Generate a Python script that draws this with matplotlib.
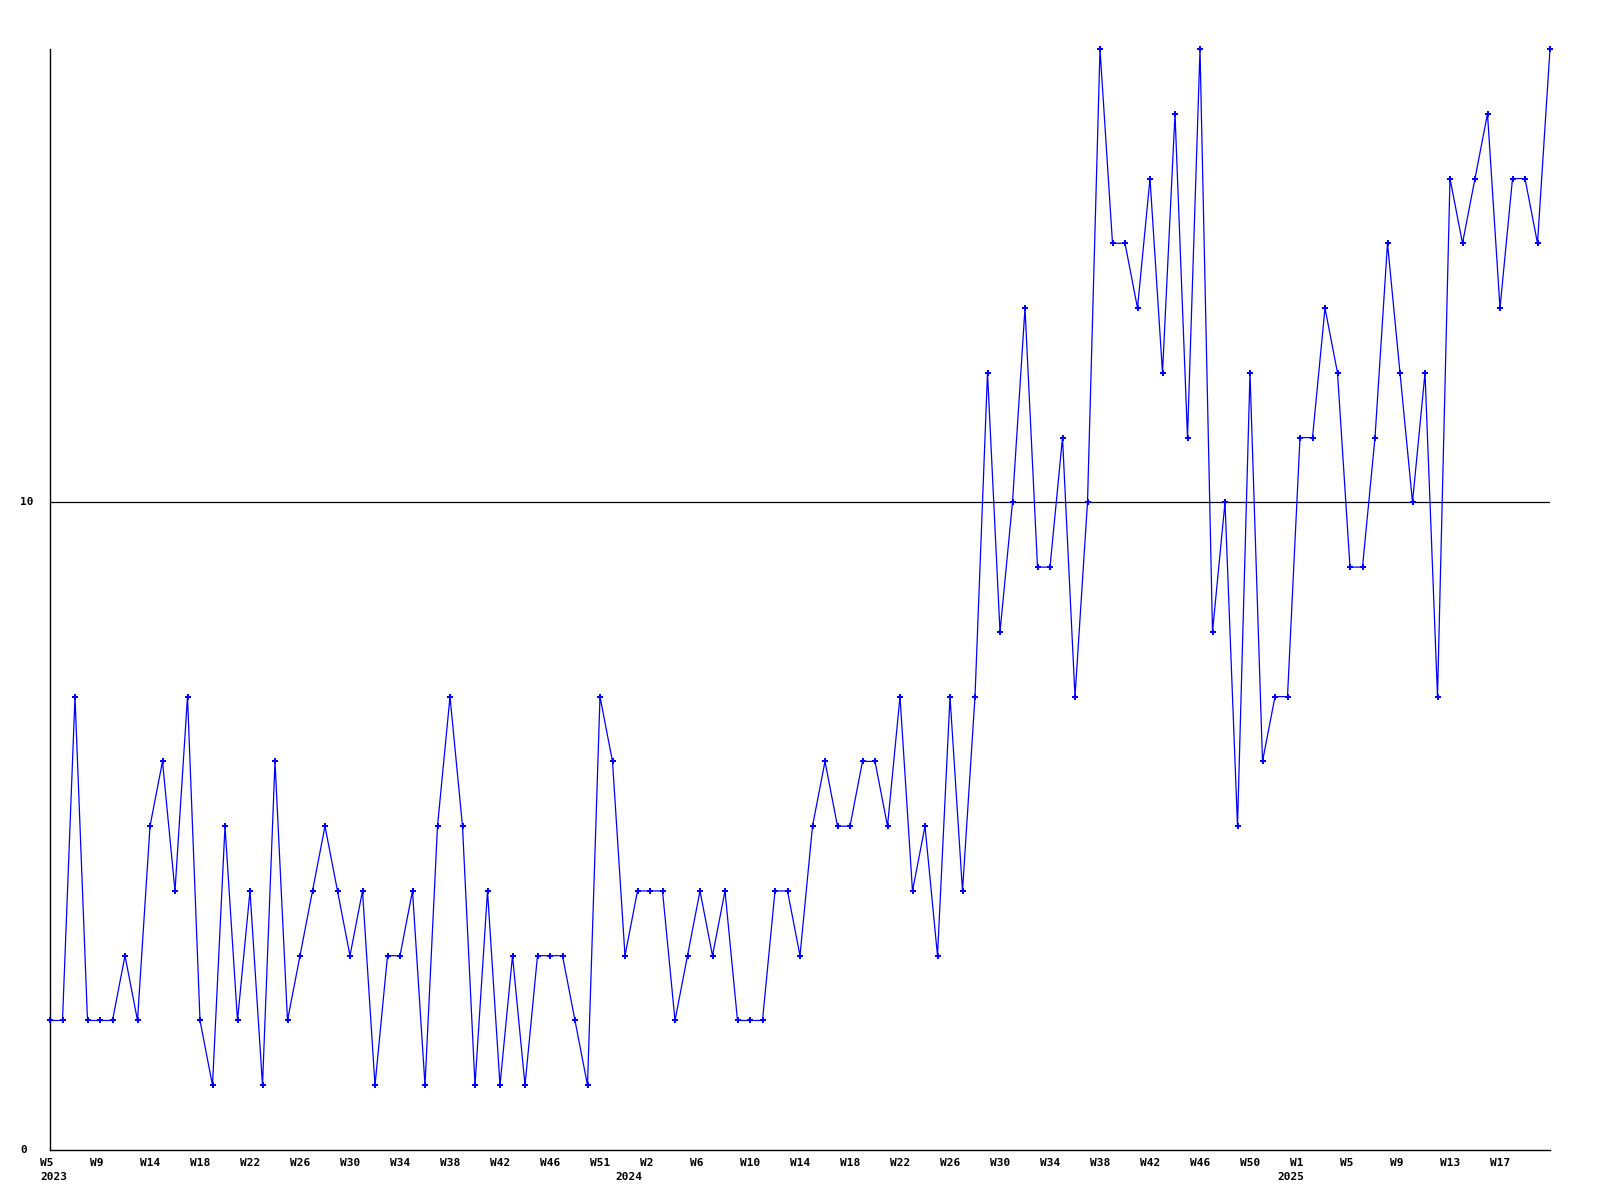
import numpy as np
import matplotlib
matplotlib.use('Agg')
import matplotlib.pyplot as plt

# weekly counts, 2023 W5 .. 2025 W21
values = [2, 2, 7, 2, 2, 2, 3, 2, 5, 6, 4, 7, 2, 1, 5, 2, 4, 1, 6, 2,
          3, 4, 5, 4, 3, 4, 1, 3, 3, 4, 1, 5, 7, 5, 1, 4, 1, 3, 1, 3,
          3, 3, 2, 1, 7, 6, 3, 4, 4, 4, 2, 3, 4, 3, 4, 2, 2, 2, 4, 4,
          3, 5, 6, 5, 5, 6, 6, 5, 7, 4, 5, 3, 7, 4, 7, 12, 8, 10, 13, 9,
          9, 11, 7, 10, 17, 14, 14, 13, 15, 12, 16, 11, 17, 8, 10, 5, 12, 6, 7, 7,
          11, 11, 13, 12, 9, 9, 11, 14, 12, 10, 12, 7, 15, 14, 15, 16, 13, 15, 15, 14,
          17]

week_labels = ['W5', 'W9', 'W14', 'W18', 'W22', 'W26', 'W30', 'W34', 'W38', 'W42',
               'W46', 'W51', 'W2', 'W6', 'W10', 'W14', 'W18', 'W22', 'W26', 'W30',
               'W34', 'W38', 'W42', 'W46', 'W50', 'W1', 'W5', 'W9', 'W13', 'W17']
week_label_pos = list(range(0, 120, 4))

years = ['2023', '2024', '2025']
year_pos = [0, 46, 99]

y_ticks = [0, 10]

font = dict(family='DejaVu Sans Mono', fontsize=8, fontweight='bold')

fig = plt.figure(figsize=(16, 12), dpi=100)
ax = fig.add_axes([50/1600, 50/1200, 1500/1600, 1101/1200])

x = np.arange(len(values))
ax.plot(x, values, color='#0000ff', lw=0.9, marker='P', ms=4, mew=0,
        mfc='#0000ff', clip_on=False, zorder=3)
ax.axhline(10, color='black', lw=0.9, zorder=0)

ax.set_xlim(0, len(values) - 1)
ax.set_ylim(0, 17)
ax.set_xticks([])
ax.set_yticks([])
for s in ['top', 'right']:
  ax.spines[s].set_visible(False)
for s in ['left', 'bottom']:
  ax.spines[s].set_linewidth(1.0)

for p, lab in zip(week_label_pos, week_labels):
  ax.annotate(lab, xy=(p, 0), xycoords=('data', 'axes fraction'),
              xytext=(-7.2, -9.4), textcoords='offset points',
              ha='left', va='center', **font)

for p, lab in zip(year_pos, years):
  ax.annotate(lab, xy=(p, 0), xycoords=('data', 'axes fraction'),
              xytext=(-7.2, -19.6), textcoords='offset points',
              ha='left', va='center', **font)

for v in y_ticks:
  ax.annotate(str(v), xy=(20/1600, v), xycoords=('figure fraction', 'data'),
              ha='left', va='center', **font)

fig.savefig('out.png', dpi=100, facecolor='white')
